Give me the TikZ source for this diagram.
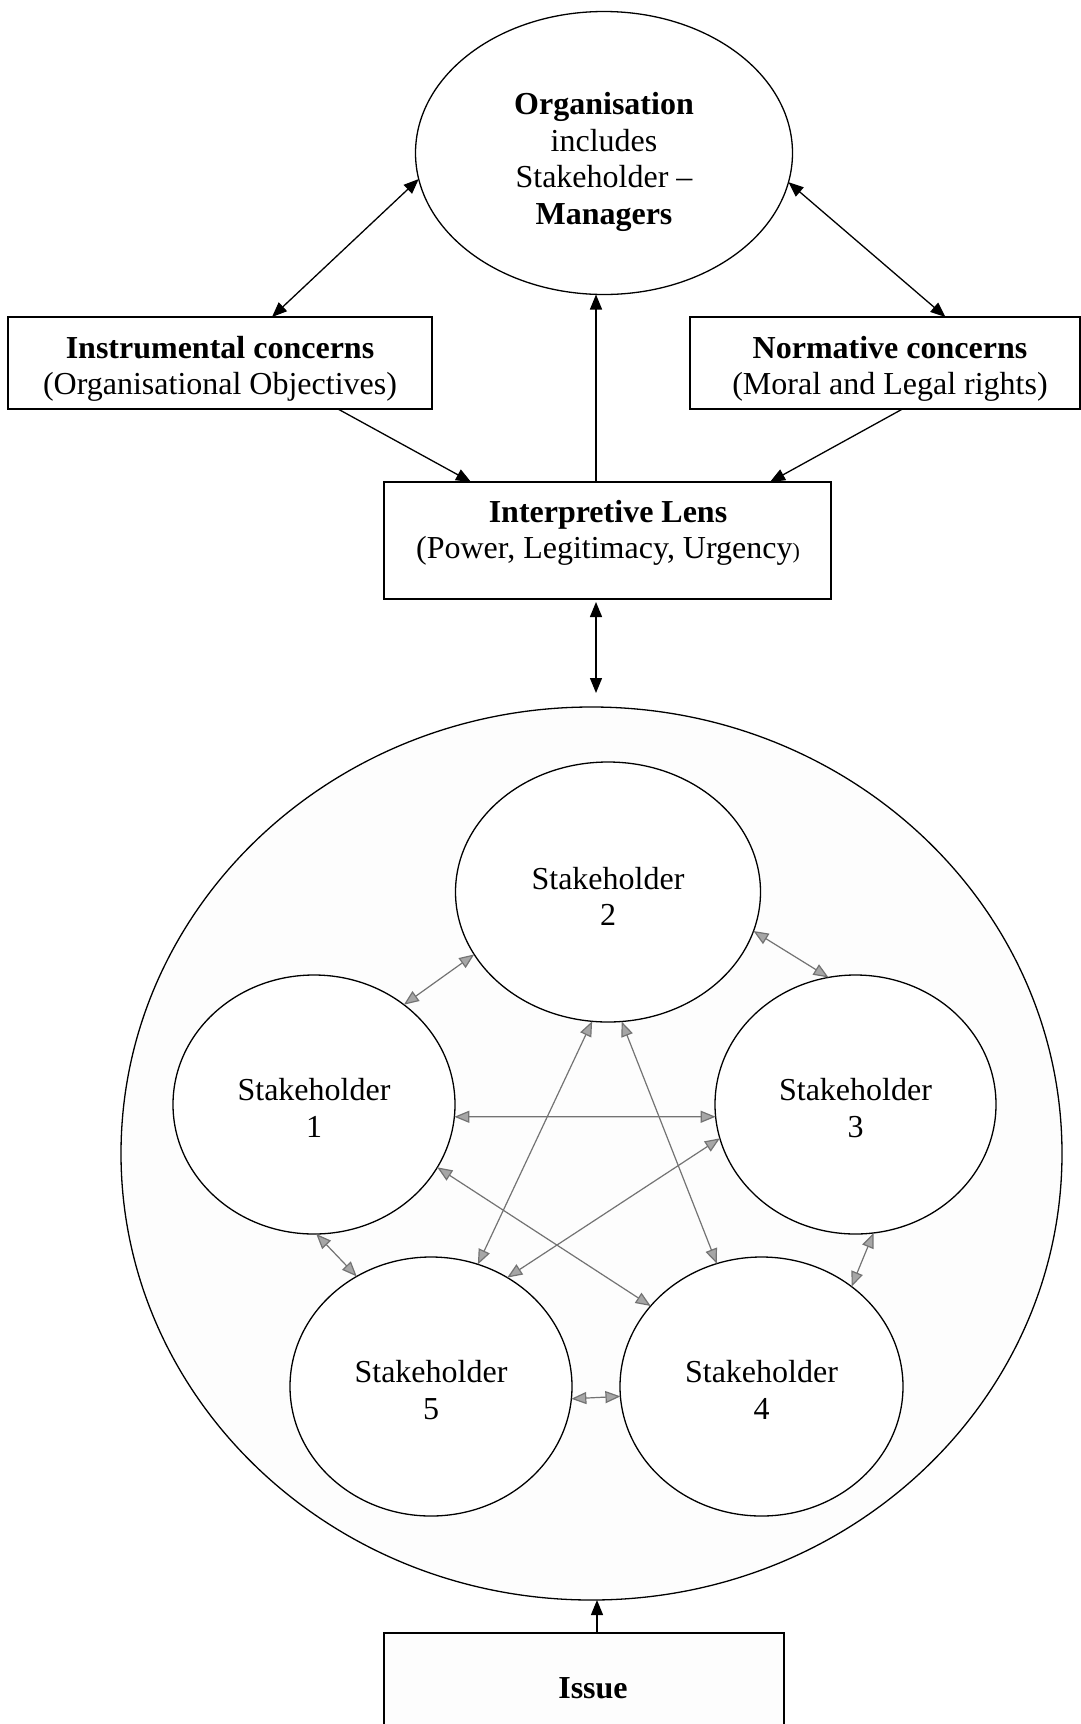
\documentclass[tikz,border=0pt]{standalone}
\usepackage{fontspec}
\setmainfont{Liberation Serif}
\usetikzlibrary{shapes.geometric,arrows.meta}
\newcommand\fsz{\fontsize{32}{36.5}\selectfont}
\begin{document}
\begin{tikzpicture}[x=1pt,y=-1pt,
  ln/.style={line width=1.3pt},
  box/.style={draw,ln,rectangle,inner sep=0pt,outer sep=0pt,align=center,font=\fsz},
  ell/.style={draw,ln,ellipse,inner sep=0pt,outer sep=0pt,align=center,font=\fsz},
  txt/.style={inner sep=0pt,align=center,font=\fsz},
  blk/.style={ln,-{Triangle[length=15pt,width=12pt]}},
  blkd/.style={ln,{Triangle[length=15pt,width=12pt]}-{Triangle[length=15pt,width=12pt]}},
  gr/.style={draw=black!55,line width=1.2pt,
    {Triangle[length=15pt,width=12pt,fill=black!35]}-{Triangle[length=15pt,width=12pt,fill=black!35]}}
]
\useasboundingbox (0,0) rectangle (1081,1724);
\clip (0,0) rectangle (1081,1724);
\fill[white] (0,0) rectangle (1081,1724);

% top part
\node[ell, minimum width=377pt, minimum height=283pt] (org) at (604,153) {};
\node[txt] (orgtext) at (604,162) {\textbf{Organisation}\\includes\\Stakeholder \textendash\\\textbf{Managers}};

\node[box, minimum width=424pt, minimum height=92pt] (inst) at (220,363) {};
\node[txt] (insttext) at (220,369) {\textbf{Instrumental concerns}\\(Organisational Objectives)};
\node[box, minimum width=390pt, minimum height=92pt] (norm) at (885,363) {};
\node[txt] (normtext) at (890,369) {\textbf{Normative concerns}\\(Moral and Legal rights)};

\node[box, minimum width=447pt, minimum height=117pt] (lens) at (607.5,540.5) {};
\node[txt] (lenstext) at (608,533)
  {\textbf{Interpretive Lens}\\(Power, Legitimacy, Urgency{\fontsize{22}{22}\selectfont)}};

% stakeholder circle
\node[ell, fill=black!0.6, minimum width=941pt, minimum height=893pt] (big) at (591.5,1153.5) {};
\node[ell, fill=white, minimum width=305pt, minimum height=260pt] (s2) at (608,892) {};
\node[ell, fill=white, minimum width=282pt, minimum height=259pt] (s1) at (314,1104.5) {};
\node[ell, fill=white, minimum width=281pt, minimum height=259pt] (s3) at (855.5,1104.5) {};
\node[ell, fill=white, minimum width=282pt, minimum height=259pt] (s5) at (431,1386.5) {};
\node[ell, fill=white, minimum width=283pt, minimum height=259pt] (s4) at (761.5,1386.5) {};
\node[txt] (s2text) at ([yshift=-4.5pt]s2.center) {Stakeholder\\2};
\node[txt] (s1text) at ([yshift=-3.5pt]s1.center) {Stakeholder\\1};
\node[txt] (s3text) at ([yshift=-3.5pt]s3.center) {Stakeholder\\3};
\node[txt] (s5text) at ([yshift=-3.5pt]s5.center) {Stakeholder\\5};
\node[txt] (s4text) at ([yshift=-3.5pt]s4.center) {Stakeholder\\4};

\node[box, fill=black!0.6, minimum width=400pt, minimum height=127pt] (issue) at (584,1696.5) {};
\node[txt] (issuetext) at (593,1688) {\textbf{Issue}};

% black connectors
\draw[blkd] (org.188) -- ([xshift=52pt]inst.north);
\draw[blkd] (org.351.7) -- ([xshift=60.5pt]norm.north);
\draw[blk] ([xshift=118pt]inst.south) -- ([xshift=-136.5pt]lens.north);
\draw[blk] ([xshift=17.5pt]norm.south) -- ([xshift=162.5pt]lens.north);
\draw[blk] ([xshift=-11.5pt]lens.north) -- ([xshift=-8pt]org.south);
\draw[blkd, shorten <=3pt, shorten >=14pt] ([xshift=-11.5pt]lens.south) -- ([xshift=4.5pt]big.north);
\draw[blk] ([xshift=13pt]issue.north) -- ([xshift=5.5pt]big.south);

% grey connectors between stakeholders
\draw[gr] (s1.48.3) -- (s2.205.2);
\draw[gr] (s2.345.3) -- (s3.102.8);
\draw[gr] (s2.263.1) -- (s5.69.2);
\draw[gr] (s2.276) -- (s4.110.7);
\draw[gr] (s1.355) -- (s3.185);
\draw[gr] (s3.194) -- (s5.55.7);
\draw[gr] (s1.333.6) -- (s4.144.5);
\draw[gr] (s1.271.7) -- (s5.124);
\draw[gr] (s3.278.2) -- (s4.48.9);
\draw[gr] (s5.355.4) -- (s4.184.6);
\end{tikzpicture}
\end{document}
